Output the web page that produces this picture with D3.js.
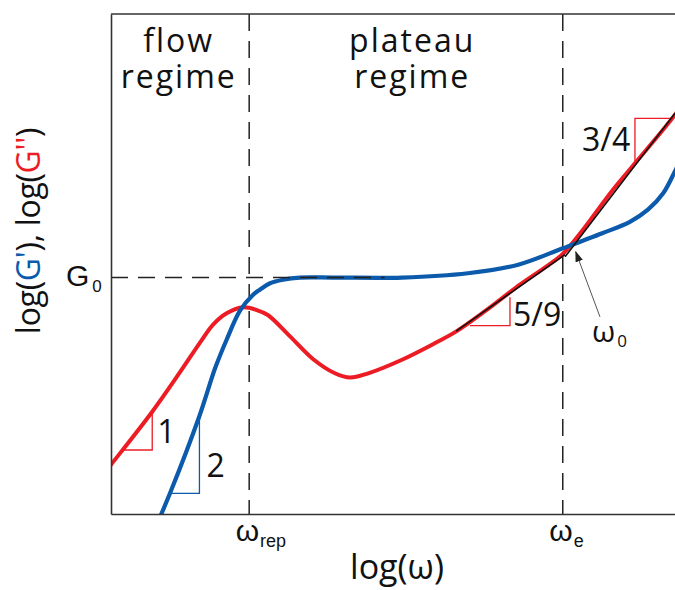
<!DOCTYPE html>
<html>
<head>
<meta charset="utf-8">
<script src="https://cdn.jsdelivr.net/npm/d3@7"></script>
<style>
  html, body { margin: 0; padding: 0; background: #fff; }
  svg { display: block; font-family: "Open Sans", "Noto Sans", sans-serif; }
</style>
</head>
<body>
<svg id="chart" width="675" height="590"></svg>
<script>
// Characteristic frequencies (log ω) and plateau modulus (log G)
const logOmegaRep = 2.45;
const logOmegaE = 8.01;
const logG0 = 3.31;

// Loss modulus G'' : [log ω, log G'']
const lossModulus = [
  [-0.2, 0.49], [0.00, 0.69], [0.731, 1.432], [1.223, 1.985], [1.578, 2.40],
  [1.814, 2.655], [2.05, 2.81], [2.346, 2.894], [2.583, 2.856], [2.78, 2.786],
  [3.17, 2.49], [3.58, 2.17], [3.97, 1.97], [4.24, 1.91], [4.56, 1.97],
  [5.16, 2.16], [5.74, 2.39], [6.13, 2.56], [6.65, 2.85], [7.25, 3.21],
  [7.73, 3.47], [8.01, 3.64], [8.32, 3.93], [8.90, 4.54], [9.29, 4.91],
  [10.0, 5.59], [10.3, 5.95]
];

// Storage modulus G' : [log ω, log G']
const storageModulus = [
  [0.70, -0.35], [1.046, 0.29], [1.568, 1.372], [1.85, 2.05], [2.05, 2.44],
  [2.29, 2.85], [2.52, 3.07], [2.64, 3.14], [2.82, 3.23], [3.05, 3.28],
  [3.35, 3.31], [3.97, 3.31], [5.16, 3.31], [6.33, 3.37], [7.22, 3.49],
  [8.01, 3.72], [8.71, 3.93], [9.20, 4.09], [9.52, 4.26], [9.79, 4.49],
  [10.0, 4.80], [10.18, 5.10]
];

// Power-law tangents (black guide lines)
const tangentLow = [[6.12, 2.56], [8.05, 3.63]];   // slope 5/9
const tangentHigh = [[8.05, 3.60], [10.0, 5.61]];  // slope 3/4

// Slope triangles: legs only, the hypotenuse is the curve itself
const slopeTriangles = [
  { label: "1",   color: "red",  legs: [[0.203, 0.896], [0.731, 0.896], [0.731, 1.432]] },
  { label: "2",   color: "blue", legs: [[1.046, 0.290], [1.568, 0.290], [1.568, 1.372]] },
  { label: "5/9", color: "red",  legs: [[6.365, 2.636], [7.074, 2.636], [7.074, 3.034]] },
  { label: "3/4", color: "red",  legs: [[9.29, 4.91], [9.29, 5.54], [9.93, 5.54]] }
];

// Crossover arrow (ω0): from label toward the G'/G'' crossing
const crossoverArrow = [[8.67, 2.76], [8.24, 3.67]];

const regimeLabels = [
  { lines: ["flow", "regime"], at: 1.20 },
  { lines: ["plateau", "regime"], at: 5.34 }
];

const RED = "#ed1c24";
const BLUE = "#0b5aab";
const INK = "#222";
const colors = { red: RED, blue: BLUE };

const svg = d3.select("#chart");
const plotLeft = 111, plotRight = 675, plotTop = 14, plotBottom = 514;

const x = d3.scaleLinear().domain([0, 10]).range([plotLeft, plotRight]);
const y = d3.scaleLinear().domain([0, 7]).range([plotBottom, plotTop]);

const defs = svg.append("defs");
defs.append("clipPath").attr("id", "plot")
  .append("rect").attr("x", plotLeft).attr("y", plotTop)
  .attr("width", plotRight - plotLeft).attr("height", plotBottom - plotTop);

defs.append("marker")
  .attr("id", "head").attr("viewBox", "0 0 10 10")
  .attr("refX", 9).attr("refY", 5)
  .attr("markerWidth", 11).attr("markerHeight", 11)
  .attr("markerUnits", "userSpaceOnUse")
  .attr("orient", "auto")
  .append("path").attr("d", "M0,1.5 L10,5 L0,8.5 Z").attr("fill", INK);

const plot = svg.append("g").attr("clip-path", "url(#plot)");

// Regime boundaries
plot.selectAll("line.bound").data([logOmegaRep, logOmegaE]).join("line")
  .attr("class", "bound")
  .attr("x1", d => x(d)).attr("x2", d => x(d))
  .attr("y1", y(7)).attr("y2", y(0))
  .attr("stroke", INK).attr("stroke-width", 1.5)
  .attr("stroke-dasharray", "17,10");

const line = d3.line().x(d => x(d[0])).y(d => y(d[1])).curve(d3.curveCatmullRom.alpha(0.5));
const straight = d3.line().x(d => x(d[0])).y(d => y(d[1]));

// Slope triangles
slopeTriangles.forEach(t => {
  plot.append("path").attr("d", straight(t.legs))
    .attr("fill", "none").attr("stroke", colors[t.color]).attr("stroke-width", 1.3);
});

// Moduli
plot.append("path").datum(lossModulus).attr("d", line)
  .attr("fill", "none").attr("stroke", RED).attr("stroke-width", 4);
plot.append("path").datum(storageModulus).attr("d", line)
  .attr("fill", "none").attr("stroke", BLUE).attr("stroke-width", 4.2);

// Plateau modulus reference
plot.append("line")
  .attr("x1", x(0)).attr("x2", x(4.85))
  .attr("y1", y(logG0)).attr("y2", y(logG0))
  .attr("stroke", INK).attr("stroke-width", 1.5)
  .attr("stroke-dasharray", "17,10");

// Tangents
[tangentLow, tangentHigh].forEach(seg => {
  plot.append("path").attr("d", straight(seg))
    .attr("fill", "none").attr("stroke", "#111").attr("stroke-width", 1.6);
});

// Crossover arrow
svg.append("path").attr("d", straight(crossoverArrow))
  .attr("fill", "none").attr("stroke", "#555").attr("stroke-width", 1)
  .attr("marker-end", "url(#head)");

// Axes (frame)
const xAxis = svg.append("g").attr("transform", `translate(0,${plotBottom})`)
  .call(d3.axisBottom(x).tickValues([logOmegaRep, logOmegaE]).tickSize(0).tickSizeOuter(0).tickFormat(""));
const yAxis = svg.append("g").attr("transform", `translate(${plotLeft},0)`)
  .call(d3.axisLeft(y).tickValues([logG0]).tickSize(0).tickSizeOuter(0).tickFormat(""));
[xAxis, yAxis].forEach(a => a.select(".domain").attr("stroke", "#333").attr("stroke-width", 1.6));
svg.append("line").attr("x1", plotLeft).attr("x2", plotRight).attr("y1", plotTop).attr("y2", plotTop)
  .attr("stroke", "#333").attr("stroke-width", 1.6);

// Tick labels with subscripts
const xTickSubs = ["rep", "e"];
xAxis.selectAll(".tick").each(function(d, i) {
  const t = d3.select(this).append("text")
    .attr("x", -14).attr("y", 27)
    .attr("fill", "#111").attr("text-anchor", "start")
    .style("font-size", "30px");
  t.append("tspan").text("ω");
  t.append("tspan").attr("dy", 6).attr("dx", 1).style("font-size", "18px").text(xTickSubs[i]);
});
yAxis.selectAll(".tick").each(function() {
  const t = d3.select(this).append("text")
    .attr("x", -45).attr("y", 8)
    .attr("fill", "#111").attr("text-anchor", "start")
    .style("font-size", "30px");
  t.append("tspan").text("G");
  t.append("tspan").attr("dy", 6).attr("dx", 3).style("font-size", "17px").text("0");
});

// Axis titles
svg.append("text").attr("x", 397).attr("y", 579)
  .attr("text-anchor", "middle").attr("fill", "#111")
  .style("font-size", "34px").text("log(ω)");

const yTitle = svg.append("text")
  .attr("transform", "translate(40,231) rotate(-90)")
  .attr("text-anchor", "middle").attr("fill", "#111")
  .style("font-size", "32px").style("letter-spacing", "-0.3px");
yTitle.append("tspan").text("log(");
yTitle.append("tspan").attr("fill", BLUE).text("G'");
yTitle.append("tspan").text("), log(");
yTitle.append("tspan").attr("fill", RED).text("G''");
yTitle.append("tspan").text(")");

// Regime labels
regimeLabels.forEach(r => {
  r.lines.forEach((s, k) => {
    svg.append("text").attr("text-anchor", "middle").attr("fill", "#111")
      .style("font-size", "32px").style("letter-spacing", "2px")
      .attr("x", x(r.at)).attr("y", 52 + k * 36).text(s);
  });
});

// Slope labels, placed beside the corner of each triangle
const slopeLabelOffset = { "1": [5, -7], "2": [7, -16], "5/9": [3, 0], "3/4": [-53, 33] };
slopeTriangles.forEach(t => {
  const off = slopeLabelOffset[t.label];
  const corner = t.legs[1];
  svg.append("text")
    .attr("x", x(corner[0]) + off[0])
    .attr("y", y(corner[1]) + off[1])
    .attr("fill", "#111").style("font-size", "32px").text(t.label);
});

// ω0 label
const w0 = svg.append("text").attr("x", x(crossoverArrow[0][0]) - 8).attr("y", y(crossoverArrow[0][1]) + 25)
  .attr("fill", "#111").style("font-size", "30px");
w0.append("tspan").text("ω");
w0.append("tspan").attr("dy", 5).attr("dx", 2).style("font-size", "17px").text("0");
</script>
</body>
</html>
